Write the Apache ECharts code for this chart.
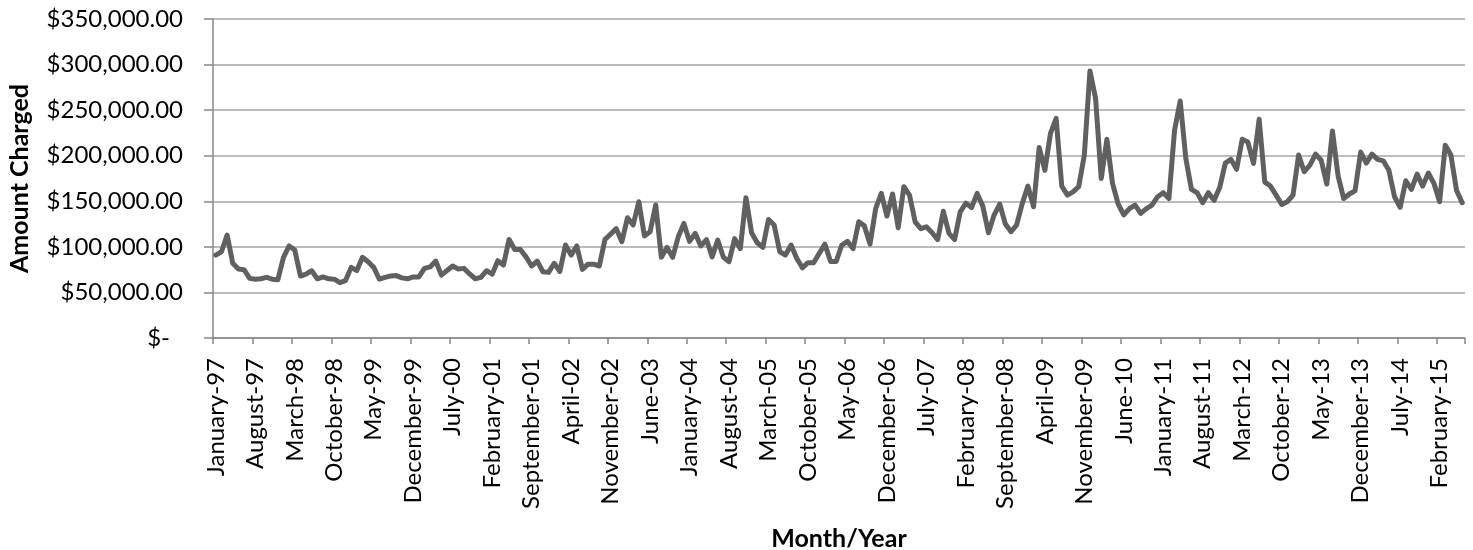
<!DOCTYPE html>
<html>
<head>
<meta charset="utf-8">
<title>Amount Charged by Month</title>
<script src="https://cdn.jsdelivr.net/npm/echarts@6/dist/echarts.min.js"></script>
<style>
  html, body { margin: 0; padding: 0; background: #ffffff; }
  #chart { width: 1473px; height: 550px; }
</style>
</head>
<body>
<div id="chart"></div>
<script>
// Monthly amounts charged, January 1997 through June 2015 (US dollars)
const MONTH_NAMES = ['January', 'February', 'March', 'April', 'May', 'June',
  'July', 'August', 'September', 'October', 'November', 'December'];
const FIRST_YEAR = 1997;

const y1997 = [91000, 94600, 113000, 82000, 75600, 75000, 65400, 64500, 65000, 66500, 64500, 64000];
const y1998 = [88500, 101000, 96500, 68000, 70000, 73800, 65000, 67000, 65000, 64500, 60700, 63000];
const y1999 = [77500, 74000, 88500, 83700, 77500, 64500, 66500, 68000, 68500, 66000, 65000, 67000];
const y2000 = [67000, 76400, 78000, 84400, 69000, 74000, 79000, 75600, 76400, 70300, 65000, 66500];
const y2001 = [73800, 70000, 84800, 80000, 108000, 97000, 97000, 89000, 79000, 84400, 72700, 72000];
const y2002 = [82000, 73000, 102000, 91000, 101000, 75300, 81000, 81000, 79000, 108000, 114000, 120000];
const y2003 = [105600, 132000, 124000, 149500, 112000, 116600, 146000, 88500, 99400, 88500, 111000, 125700];
const y2004 = [106000, 114800, 101000, 108000, 89000, 107500, 88500, 83700, 109000, 98000, 154000, 115500];
const y2005 = [104500, 99400, 130000, 124000, 94600, 91000, 102000, 87400, 77000, 82600, 82600, 92800];
const y2006 = [103000, 84000, 84000, 102000, 106000, 98000, 127500, 123000, 103000, 142000, 158600, 133800];
const y2007 = [158000, 121000, 166000, 156800, 127500, 120000, 122000, 115500, 108000, 139000, 114800, 108000];
const y2008 = [138500, 148000, 143000, 158600, 144700, 115500, 134900, 147000, 125000, 116600, 124000, 147700];
const y2009 = [166700, 144000, 209000, 184000, 224500, 241000, 166700, 156800, 160400, 166000, 200700, 293000];
const y2010 = [262800, 175000, 218000, 169600, 147000, 135000, 142000, 145800, 136700, 142000, 145800, 155000];
const y2011 = [159400, 153000, 228000, 260000, 197000, 163000, 159400, 148400, 159400, 151000, 165000, 191900];
const y2012 = [196000, 185000, 218000, 215000, 191500, 240000, 171000, 166700, 156800, 146600, 149500, 156800];
const y2013 = [200700, 182400, 189700, 201800, 195000, 168900, 227000, 177600, 153000, 158000, 161500, 204000];
const y2014 = [191900, 201800, 196000, 194400, 184000, 155000, 143300, 172500, 163000, 179800, 166700, 181000];
const y2015 = [169600, 149500, 211600, 200700, 162000, 148400];

const amounts = [].concat(y1997, y1998, y1999, y2000, y2001, y2002, y2003, y2004, y2005,
  y2006, y2007, y2008, y2009, y2010, y2011, y2012, y2013, y2014, y2015);

// Category labels such as "January-97"
const months = amounts.map(function (_, i) {
  const year = FIRST_YEAR + Math.floor(i / 12);
  return MONTH_NAMES[i % 12] + '-' + String(year % 100).padStart(2, '0');
});

const FONT = 'Lato';

function money(v) {
  if (v === 0) return '{z|$-}';
  return '$' + v.toLocaleString('en-US', { minimumFractionDigits: 2, maximumFractionDigits: 2 });
}

const chart = echarts.init(document.getElementById('chart'), null, { renderer: 'canvas' });
chart.setOption({
  animation: false,
  backgroundColor: '#ffffff',
  grid: {
    left: 213, right: 8, top: 19, bottom: 212,
    containLabel: false, outerBoundsMode: 'none'
  },
  xAxis: {
    type: 'category',
    data: months,
    boundaryGap: true,
    name: 'Month/Year',
    nameLocation: 'middle',
    nameGap: 188,
    nameTextStyle: { fontFamily: FONT, fontSize: 25, fontWeight: 'bold', color: '#000' },
    axisLine: { show: true, lineStyle: { color: '#868686', width: 1.5 } },
    axisTick: { show: true, interval: 6, length: 6, lineStyle: { color: '#868686', width: 1.5 } },
    axisLabel: {
      interval: 6, rotate: 90, margin: 20,
      fontFamily: FONT, fontSize: 24, color: '#000'
    },
    splitLine: { show: false }
  },
  yAxis: {
    type: 'value',
    min: 0, max: 350000, interval: 50000,
    name: 'Amount Charged',
    nameLocation: 'middle',
    nameRotate: 90,
    nameGap: 181,
    nameTextStyle: { fontFamily: FONT, fontSize: 25, fontWeight: 'bold', color: '#000' },
    axisLine: { show: true, lineStyle: { color: '#868686', width: 1.5 } },
    axisTick: { show: true, length: 9, lineStyle: { color: '#868686', width: 1.5 } },
    axisLabel: {
      margin: 30, fontFamily: FONT, fontSize: 24, color: '#000',
      formatter: money,
      rich: { z: { fontFamily: FONT, fontSize: 24, color: '#000', padding: [0, 13, 0, 0] } }
    },
    splitLine: { show: true, lineStyle: { color: '#a6a6a6', width: 1.5 } }
  },
  series: [{
    name: 'Amount Charged',
    type: 'line',
    data: amounts,
    showSymbol: false,
    symbol: 'none',
    lineStyle: { color: '#606060', width: 5, join: 'round', cap: 'round' },
    itemStyle: { color: '#606060' }
  }]
});
</script>
</body>
</html>
